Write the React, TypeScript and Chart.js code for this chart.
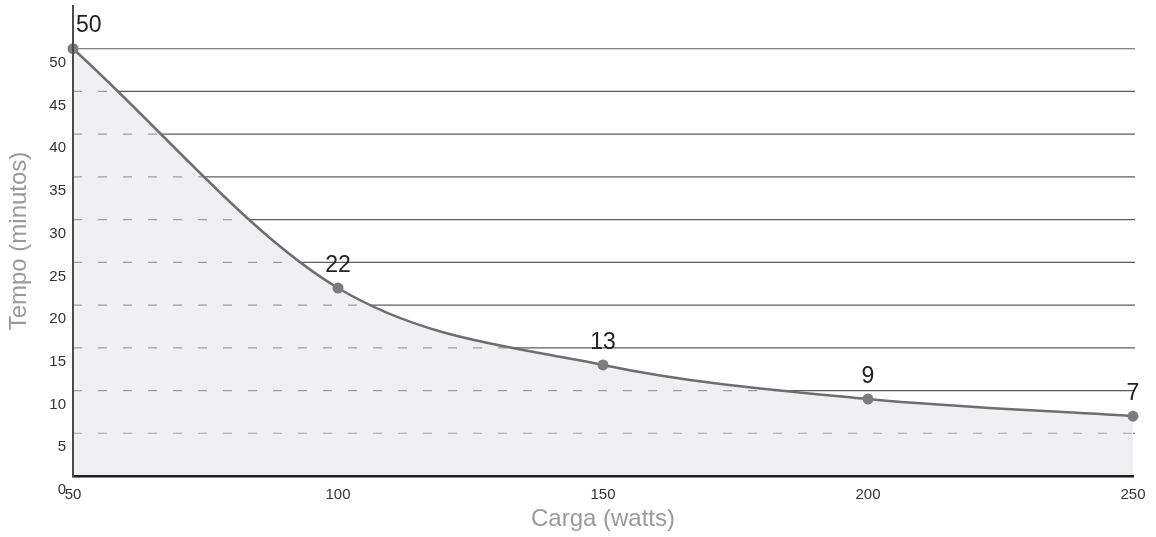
import React, { useEffect, useRef } from 'react';
import { Chart, registerables } from 'chart.js';

Chart.register(...registerables);

// ---- data ----
const loads = [50, 100, 150, 200, 250]; // Carga (watts)
const minutes = [50, 22, 13, 9, 7]; // Tempo (minutos)
const xTickValues = [50, 100, 150, 200, 250];
const yTickValues = [0, 5, 10, 15, 20, 25, 30, 35, 40, 45, 50];
const gridValues = [5, 10, 15, 20, 25, 30, 35, 40, 45, 50];

const FONT = '"Liberation Sans", Arial, Helvetica, sans-serif';

const shadePlugin = {
  id: 'shadeGrid',
  beforeDatasetsDraw(chart: any) {
    const { ctx, chartArea: a, scales } = chart;
    const ys = scales.y;
    const meta = chart.getDatasetMeta(0);
    const line: any = meta.dataset;
    const pts: any[] = meta.data as any[];
    if (!line || !pts.length) return;
    ctx.save();
    // solid grid lines (visible above the curve)
    ctx.strokeStyle = '#5c5c5c';
    ctx.lineWidth = 1.2;
    for (const v of gridValues) {
      const y = ys.getPixelForValue(v);
      ctx.beginPath();
      ctx.moveTo(a.left, y);
      ctx.lineTo(a.right + 2, y);
      ctx.stroke();
    }
    // area under the curve
    if (typeof line.updateControlPoints === 'function') line.updateControlPoints(a, 'x');
    ctx.beginPath();
    if (typeof line.path === 'function') {
      line.path(ctx);
    } else {
      pts.forEach((p, i) => (i ? ctx.lineTo(p.x, p.y) : ctx.moveTo(p.x, p.y)));
    }
    const first = pts[0];
    const last = pts[pts.length - 1];
    ctx.lineTo(last.x, a.bottom);
    ctx.lineTo(first.x, a.bottom);
    ctx.closePath();
    ctx.fillStyle = '#f0f0f2';
    ctx.fill();
    ctx.clip();
    // dashed grid lines inside the area
    ctx.setLineDash([9, 16]);
    ctx.strokeStyle = '#9e9e9e';
    ctx.lineWidth = 1.2;
    for (const v of gridValues) {
      const y = ys.getPixelForValue(v);
      ctx.beginPath();
      ctx.moveTo(a.left, y);
      ctx.lineTo(a.right + 2, y);
      ctx.stroke();
    }
    ctx.restore();
  },
  afterDatasetsDraw(chart: any) {
    const { ctx } = chart;
    const meta = chart.getDatasetMeta(0);
    const pts: any[] = meta.data as any[];
    ctx.save();
    ctx.font = `23px ${FONT}`;
    ctx.fillStyle = '#222222';
    ctx.textBaseline = 'alphabetic';
    pts.forEach((p, i) => {
      const txt = String(minutes[i]);
      if (i === 0) {
        ctx.textAlign = 'left';
        ctx.fillText(txt, p.x + 3, p.y - 17);
      } else {
        ctx.textAlign = 'center';
        ctx.fillText(txt, p.x, p.y - 16);
      }
    });
    ctx.restore();
  },
};

export default function App() {
  const canvasRef = useRef<HTMLCanvasElement | null>(null);

  useEffect(() => {
    if (!canvasRef.current) return;
    const chart = new Chart(canvasRef.current, {
      type: 'line',
      data: {
        datasets: [
          {
            data: loads.map((x, i) => ({ x, y: minutes[i] })),
            borderColor: '#6e6e6e',
            borderWidth: 2.5,
            cubicInterpolationMode: 'monotone',
            pointRadius: 5.5,
            pointBackgroundColor: '#7c7c7c',
            pointBorderWidth: 0,
            fill: false,
            clip: false as any,
          },
        ],
      },
      options: {
        animation: false,
        responsive: true,
        maintainAspectRatio: false,
        layout: { padding: { top: 6, right: 23, bottom: 0, left: 0 } },
        plugins: {
          legend: { display: false },
          tooltip: { enabled: false },
        },
        scales: {
          x: {
            type: 'linear',
            min: 50,
            max: 250,
            afterBuildTicks: (s: any) => {
              s.ticks = xTickValues.map((v) => ({ value: v }));
            },
            afterFit: (s: any) => {
              s.height = 61;
              s.paddingLeft = 0;
              s.paddingRight = 0;
            },
            grid: { display: false, drawTicks: false },
            border: { display: true, color: '#1e1e1e', width: 2.5, z: 1 } as any,
            ticks: {
              color: '#333333',
              font: { family: FONT, size: 15 },
              padding: 10,
              maxRotation: 0,
              autoSkip: false,
            },
            title: {
              display: true,
              text: 'Carga (watts)',
              color: '#9a9a9a',
              font: { family: FONT, size: 24 },
              padding: { top: 0, bottom: 3 },
            },
          },
          y: {
            type: 'linear',
            min: 0,
            max: 55,
            afterBuildTicks: (s: any) => {
              s.ticks = yTickValues.map((v) => ({ value: v }));
            },
            afterFit: (s: any) => {
              s.width = 73;
              s.paddingTop = 0;
              s.paddingBottom = 0;
            },
            grid: { display: false, drawTicks: false },
            border: { display: true, color: '#4a4a4a', width: 2, z: 1 } as any,
            ticks: {
              color: '#333333',
              font: { family: FONT, size: 15 },
              padding: 7,
              labelOffset: 14,
              autoSkip: false,
            },
            title: {
              display: true,
              text: 'Tempo (minutos)',
              color: '#9a9a9a',
              font: { family: FONT, size: 24 },
              padding: { top: 5, bottom: 0 },
            },
          },
        },
      },
      plugins: [shadePlugin],
    });
    return () => chart.destroy();
  }, []);

  return (
    <div style={{ position: 'fixed', left: 0, top: 0, width: 1156, height: 537, background: '#ffffff' }}>
      <canvas ref={canvasRef} />
    </div>
  );
}
